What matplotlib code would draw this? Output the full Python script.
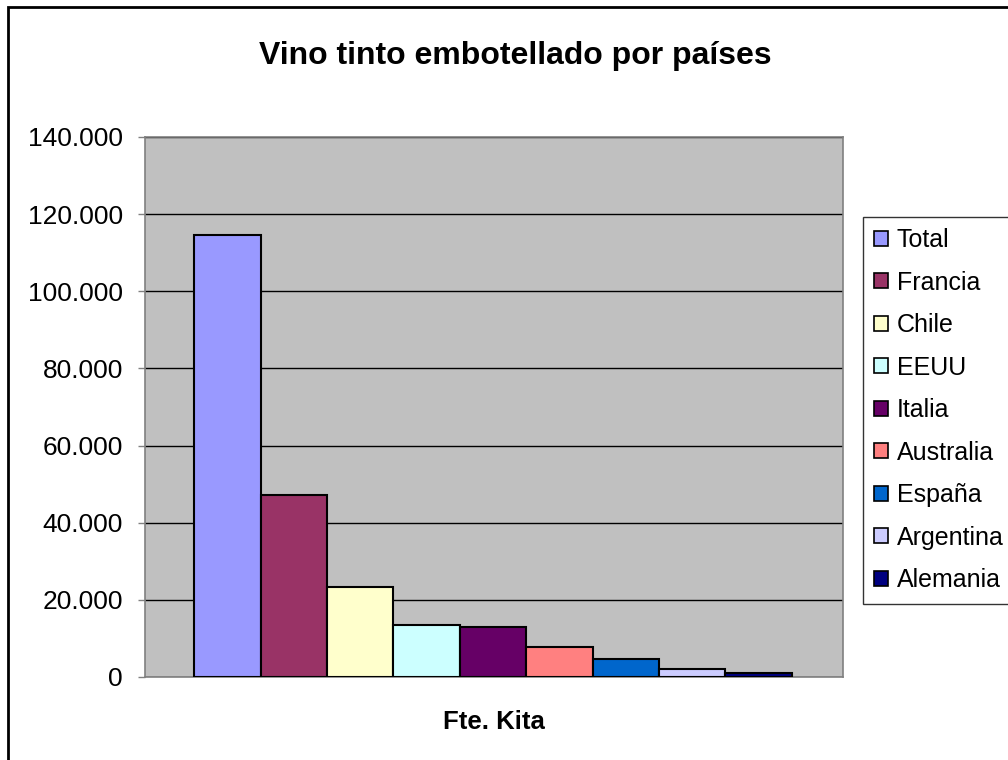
import matplotlib
matplotlib.use("Agg")
import matplotlib.pyplot as plt
from matplotlib.patches import Patch, Rectangle
from matplotlib.ticker import FuncFormatter, MultipleLocator

plt.rcParams["font.family"] = ["Liberation Sans", "DejaVu Sans"]

# Data
countries = ["Total", "Francia", "Chile", "EEUU", "Italia",
             "Australia", "España", "Argentina", "Alemania"]
bottles = [114600, 47200, 23250, 13400, 12950, 7800, 4600, 2000, 950]
colors = ["#9999FF", "#993366", "#FFFFCC", "#CCFFFF", "#660066",
          "#FF8080", "#0066CC", "#CCCCFF", "#000080"]

fig = plt.figure(figsize=(10.08, 7.6), dpi=100)
ax = fig.add_axes([145 / 1008, 1 - 677 / 760, 698 / 1008, 540 / 760])

# outer chart frame (only left and top edges fall inside the picture)
fig.patches.append(Rectangle((8 / 1008, -0.1), 1.2, 1 - 7 / 760 + 0.1,
                             transform=fig.transFigure, fill=False,
                             edgecolor="black", linewidth=2))

ax.set_facecolor("#C0C0C0")
ax.bar(range(len(countries)), bottles, width=1.0, color=colors,
       edgecolor="black", linewidth=1.5, zorder=3)

ax.set_ylim(0, 140000)
ax.set_xlim(-1.24, len(countries) - 1 + 1.27)
ax.yaxis.set_major_locator(MultipleLocator(20000))
ax.yaxis.set_major_formatter(
    FuncFormatter(lambda v, p: f"{int(v):,}".replace(",", ".")))
ax.grid(axis="y", color="black", linewidth=1, zorder=1)
ax.set_xticks([])
ax.tick_params(axis="y", labelsize=19, length=5, width=1, color="#808080",
               pad=11)
for s in ax.spines.values():
    s.set_color("#808080")
    s.set_linewidth(1.2)

ax.set_xlabel("Fte. Kita", fontsize=18.5, fontweight="bold", labelpad=24)
fig.text(515 / 1008, 1 - 56 / 760, "Vino tinto embotellado por países",
         ha="center", va="center", fontsize=23, fontweight="bold")

handles = [Patch(facecolor=c, edgecolor="black", linewidth=1.2)
           for c in colors]
leg = fig.legend(handles, countries, loc="upper left",
                 bbox_to_anchor=(863 / 1008, 1 - 217 / 760),
                 fontsize=18, frameon=True, fancybox=False,
                 edgecolor="black", handlelength=0.55, handleheight=0.55,
                 handletextpad=0.35, labelspacing=0.74, borderpad=0.45,
                 borderaxespad=0)
leg.get_frame().set_linewidth(1)

fig.savefig("out.png", dpi=100)
